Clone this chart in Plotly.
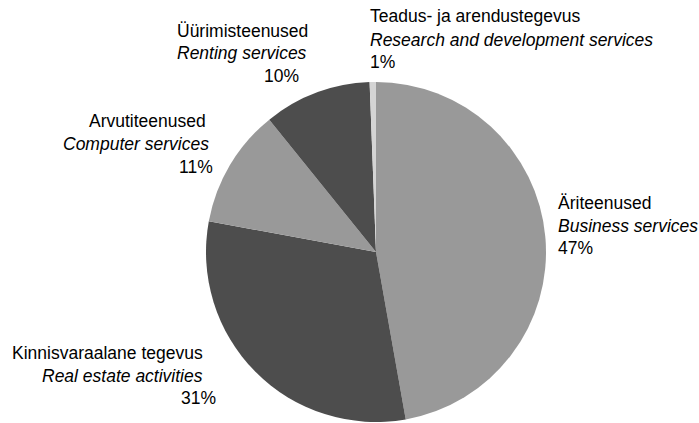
import plotly.graph_objects as go

# ---- data ----
names_et = ["Äriteenused", "Kinnisvaraalane tegevus", "Arvutiteenused",
            "Üürimisteenused", "Teadus- ja arendustegevus"]
names_en = ["Business services", "Real estate activities", "Computer services",
            "Renting services", "Research and development services"]
shares = [47.2, 30.7, 11.3, 10.2, 0.6]
colors = ["#999999", "#4d4d4d", "#999999", "#4d4d4d", "#d4d4d4"]

pct = [f"{round(v / sum(shares) * 100):.0f}%" for v in shares]

W, H = 699, 423

fig = go.Figure(go.Pie(
    values=shares,
    labels=names_en,
    sort=False,
    direction="clockwise",
    rotation=0,
    marker=dict(colors=colors, line=dict(width=0)),
    textinfo="none",
    hoverinfo="label+percent",
    showlegend=False,
    domain=dict(x=[206 / W, 546 / W], y=[1 / H, 341 / H]),
))

# label layout: per slice, per line (x pixel, anchor, y pixel)
label_layout = [
    [(556, "left", 203), (556, "left", 226), (556, "left", 248)],
    [(205, "right", 353), (205, "right", 376), (218, "right", 398)],
    [(208, "right", 121), (211, "right", 144), (215, "right", 167)],
    [(175, "left", 31), (175, "left", 53), (301, "right", 76)],
    [(368, "left", 16), (368, "left", 40), (368, "left", 62)],
]

font = dict(family="Liberation Sans, Arial, sans-serif", size=17.5, color="#000000")
annotations = []
for i in range(len(shares)):
    texts = [names_et[i], f"<i>{names_en[i]}</i>", pct[i]]
    for (xp, anchor, yp), t in zip(label_layout[i], texts):
        annotations.append(dict(
            text=t, xref="paper", yref="paper",
            x=xp / W, y=1 - yp / H, xanchor=anchor, yanchor="middle",
            showarrow=False, font=font,
        ))

fig.update_layout(
    width=W, height=H,
    margin=dict(l=0, r=0, t=0, b=0),
    paper_bgcolor="white", plot_bgcolor="white",
    annotations=annotations,
)

fig.write_html(
    "out.html",
    config={"displayModeBar": False},
    post_script="document.body.style.margin='0';document.body.style.overflow='hidden';",
)
